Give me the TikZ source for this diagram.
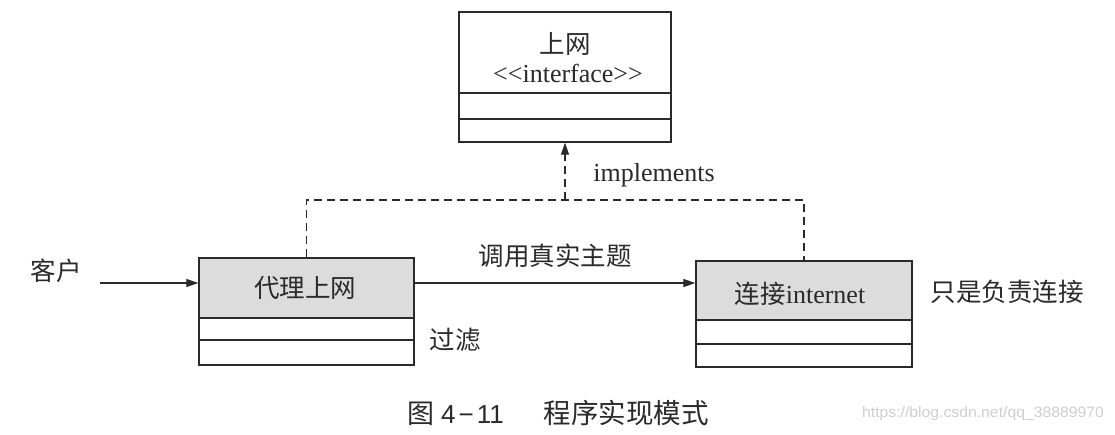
\documentclass[tikz,border=0pt]{standalone}
\usepackage{fontspec}
\setmainfont{Liberation Serif}
\newfontfamily\cjk{Noto Sans CJK SC}
\newfontfamily\wm{Liberation Sans}
\usetikzlibrary{arrows.meta}
\definecolor{ink}{HTML}{2A2A2A}
\definecolor{shade}{HTML}{DCDCDC}
\definecolor{wmgray}{HTML}{CFCFCF}
\tikzset{
  comp/.style={draw=ink, line width=1.4pt, inner sep=0pt, minimum width=#1},
  titlecomp/.style={comp=#1, fill=shade},
  lbl/.style={text=ink, inner sep=0pt},
  cn/.style={lbl, font=\cjk\fontsize{25.5}{28}\selectfont},
  lt/.style={lbl, font=\fontsize{26}{30}\selectfont},
  arr/.style={draw=ink, line width=1.3pt, -{Triangle[length=12pt,width=8pt]}},
  dsh/.style={draw=ink, line width=1.3pt, dash pattern=on 8pt off 5pt},
}
\begin{document}
\begin{tikzpicture}[x=1pt,y=-1pt]
\useasboundingbox (0,0) rectangle (1115,434);
\fill[white] (0,0) rectangle (1115,434);
% top interface box
\node[comp=212pt, minimum height=81pt] (topT) at (565,52.5) {};
\node[comp=212pt, minimum height=26pt] (topA) at (565,106) {};
\node[comp=212pt, minimum height=23pt] (topB) at (565,130.5) {};
\node[cn] (topname) at (565,44) {上网};
\node[lt] (topster) at (568,73) {{<}{<}interface{>}{>}};
% proxy box
\node[titlecomp=215pt, minimum height=60pt] (proxyT) at (306.5,288) {};
\node[comp=215pt, minimum height=22pt] (proxyA) at (306.5,329) {};
\node[comp=215pt, minimum height=25pt] (proxyB) at (306.5,352.5) {};
\node[cn] (proxyname) at (305,288) {代理上网};
% real box
\node[titlecomp=216pt, minimum height=59pt] (realT) at (804,290.5) {};
\node[comp=216pt, minimum height=24pt] (realA) at (804,332) {};
\node[comp=216pt, minimum height=23pt] (realB) at (804,355.5) {};
\node[lbl] (realname) at (800,294) {{\cjk\fontsize{25.5}{28}\selectfont 连接}{\fontsize{26}{30}\selectfont internet}};
% labels
\node[cn] (client) at (56,271) {客户};
\node[cn] (call) at (555,256) {调用真实主题};
\node[cn] (filter) at (455,340) {过滤};
\node[cn] (only) at (1007,292) {只是负责连接};
\node[lt] (impl) at (654,175) {implements};
\coordinate (c1) at (100,283);
\coordinate (j) at (565,200);
% connectors
\draw[arr] (c1) -- (c1 -| proxyT.west);
\draw[arr] (proxyT.east |- c1) -- (realT.west |- c1);
\draw[dsh] (proxyT.north) |- (j) -| (realT.north);
\draw[dsh] (j) -- ([yshift=-12pt]topB.south);
\draw[arr] ([yshift=-12pt]topB.south) -- (topB.south);
% caption
\node[lbl, anchor=west] (cap) at (407,413) {{\cjk\fontsize{27}{30}\selectfont 图}\hspace{7pt}{\wm\fontsize{26}{30}\selectfont 4\kern3pt−\kern3pt11}\hspace{40pt}{\cjk\fontsize{27.5}{30}\selectfont 程序实现模式}};
\node[inner sep=0pt, text=wmgray, font=\wm\fontsize{15}{17}\selectfont] (wmark) at (983,414) {\scalebox{1.05}[1]{https://blog.csdn.net/qq\_38889970}};
\end{tikzpicture}
\end{document}
